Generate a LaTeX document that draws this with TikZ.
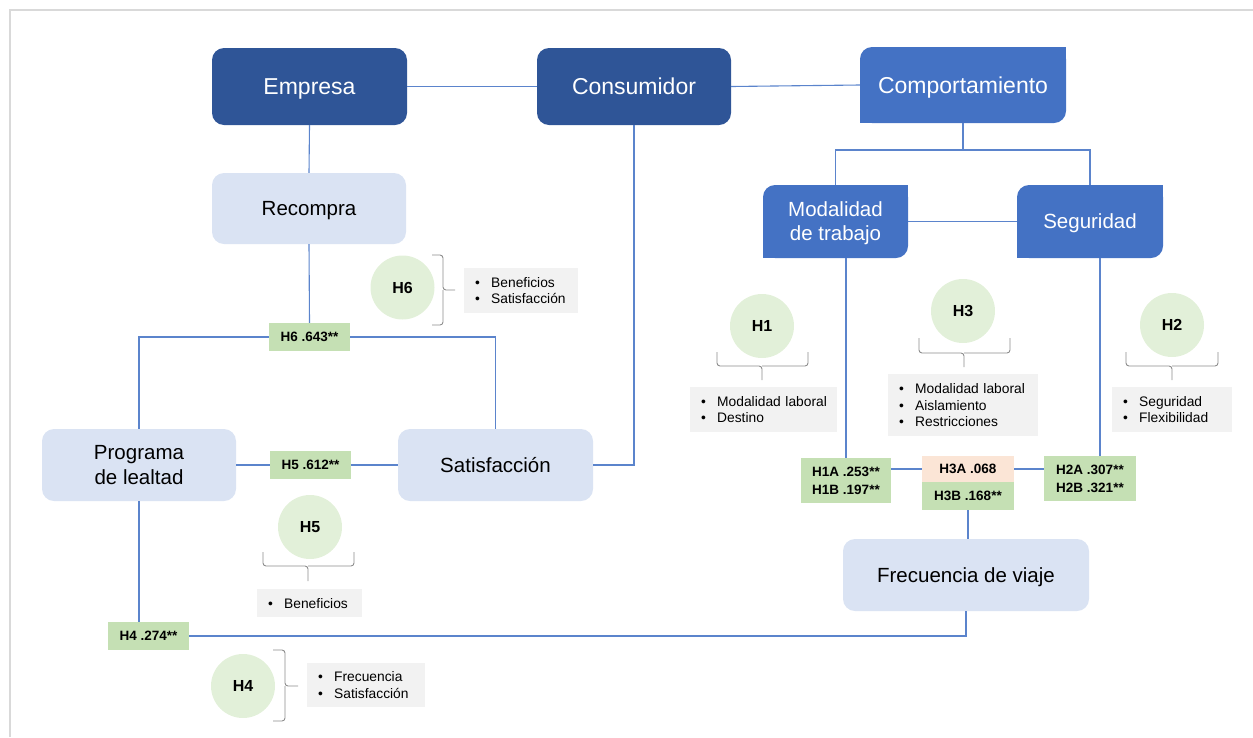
\documentclass[tikz,border=0pt]{standalone}
\usepackage{fontspec}
\setmainfont{Liberation Sans}
\definecolor{dkblue}{HTML}{2F5597}
\definecolor{mdblue}{HTML}{4472C4}
\definecolor{ltblue}{HTML}{DAE3F3}
\definecolor{lblgreen}{HTML}{C5E0B4}
\definecolor{peach}{HTML}{FBE5D6}
\definecolor{circgreen}{HTML}{E2F0D9}
\definecolor{bulgray}{HTML}{F2F2F2}
\definecolor{connblue}{HTML}{5B84CC}
\definecolor{bracegray}{HTML}{8C8C8C}
\definecolor{framegray}{HTML}{D9D9D9}
\newcommand{\bpt}[1]{\mbox{\makebox[16pt][l]{\textbullet}#1}}
\newcommand{\sharpdiag}[1]{%
  \fill[mdblue] (#1.north east) rectangle ++(-14pt,-14pt);
  \fill[mdblue] (#1.south west) rectangle ++(14pt,14pt);}
\tikzset{
  topbox/.style={fill=dkblue, text=white, rounded corners=12pt, inner sep=0pt, text depth=0pt,
    font=\fontsize{23}{27}\selectfont},
  diagbox/.style={fill=mdblue, text=white, rounded corners=12pt, inner sep=0pt, align=center, text depth=0pt},
  lightbox/.style={fill=ltblue, text=black, rounded corners=12pt, inner sep=0pt, align=center, text depth=0pt,
    font=\fontsize{20.5}{25}\selectfont},
  lbl/.style={fill=lblgreen, inner sep=0pt, align=left,
    font=\bfseries\fontsize{13.5}{18}\selectfont},
  hyp/.style={circle, fill=circgreen, minimum size=64pt, inner sep=0pt,
    font=\bfseries\fontsize{16}{18}\selectfont},
  conn/.style={draw=connblue, line width=1.1pt},
  brace/.style={draw=bracegray, line width=0.9pt, rounded corners=3pt},
  bul/.style={fill=bulgray, anchor=north west, inner xsep=11pt, inner ysep=0pt, align=left,
    font=\fontsize{13.8}{16.5}\selectfont}
}
\begin{document}
\begin{tikzpicture}[x=1pt,y=-1pt]
\useasboundingbox (0,0) rectangle (1253,737);
\draw[framegray, line width=2pt] (10,737) -- (10,10) -- (1253,10);

% main nodes
\node[topbox, minimum width=195pt, minimum height=77pt] (Emp) at (309.5,86.5) {Empresa};
\node[topbox, minimum width=194pt, minimum height=77pt] (Cons) at (634,86.5) {Consumidor};
\node[diagbox, minimum width=206pt, minimum height=76pt, font=\fontsize{23}{27}\selectfont] (Comp) at (963,85) {Comportamiento};
\sharpdiag{Comp}
\node[diagbox, minimum width=145pt, minimum height=73pt, font=\fontsize{20.5}{24}\selectfont] (Mod) at (835.5,221.5) {Modalidad\\de trabajo};
\sharpdiag{Mod}
\node[diagbox, minimum width=146pt, minimum height=73pt, font=\fontsize{20.5}{24}\selectfont] (Seg) at (1090,221.5) {Seguridad};
\sharpdiag{Seg}
\node[lightbox, minimum width=194pt, minimum height=71pt] (Rec) at (309,208.5) {Recompra};
\node[lightbox, minimum width=194pt, minimum height=72pt] (Prog) at (139,465) {Programa\\de lealtad};
\node[lightbox, minimum width=195pt, minimum height=72pt] (Sat) at (495.5,465) {Satisfacción};
\node[lightbox, minimum width=246pt, minimum height=72pt] (Frec) at (966,575) {Frecuencia de viaje};

% coefficient labels
\node[lbl, minimum width=81pt, minimum height=28pt] (H6lab) at (309.5,337) {H6 .643**};
\node[lbl, minimum width=81pt, minimum height=28pt] (H5lab) at (310.5,465) {H5 .612**};
\node[lbl, minimum width=81pt, minimum height=28pt] (H4lab) at (148.5,636) {H4 .274**};
\node[lbl, minimum width=90pt, minimum height=45pt] (H1ab) at (846,480.5) {H1A .253**\\H1B .197**};
\node[lbl, fill=peach, minimum width=92pt, minimum height=26pt] (H3A) at (968,469) {H3A .068};
\node[lbl, minimum width=92pt, minimum height=28pt] (H3B) at (968,496) {H3B .168**};
\node[lbl, minimum width=92pt, minimum height=45pt] (H2ab) at (1090,478.5) {H2A .307**\\H2B .321**};

% connectors
\draw[conn] (Emp.east) -- (Cons.west);
\draw[conn] (Cons.east) -- (Comp.west);
\draw[conn] (Emp.south) -- (Rec.north);
\draw[conn] (Rec.south) -- (H6lab.north);
\draw[conn] (Prog.north) |- (H6lab.west);
\draw[conn] (Sat.north) |- (H6lab.east);
\draw[conn] (Prog.east) -- (H5lab.west);
\draw[conn] (H5lab.east) -- (Sat.west);
\draw[conn] (Cons.south) |- (Sat.east);
\draw[conn] (Prog.south) -- (Prog.south |- H4lab.north);
\draw[conn] (Frec.south) |- (H4lab.east);
\coordinate (brY) at (963,150);
\draw[conn] (Comp.south) -- (brY);
\draw[conn] (Mod.north) |- (brY) -| (Seg.north);
\draw[conn] (Mod.east) -- (Seg.west);
\draw[conn] (H1ab.north) -- (H1ab.north |- Mod.south);
\coordinate (H2top) at ([xshift=10pt]H2ab.north);
\draw[conn] (H2top) -- (H2top |- Seg.south);
\draw[conn] (H3A.west) -- (H3A.west -| H1ab.east);
\draw[conn] (H3A.east) -- (H3A.east -| H2ab.west);
\draw[conn] (H3B.south) -- (H3B.south |- Frec.north);

% hypothesis circles
\node[hyp] (H6) at (402.5,287.5) {H6};
\node[hyp] (H5) at (310,527) {H5};
\node[hyp] (H4) at (243,686) {H4};
\node[hyp] (H1) at (762,326) {H1};
\node[hyp] (H3) at (963,311) {H3};
\node[hyp] (H2) at (1172,325) {H2};

% braces
\draw[brace] (432,255) -- (443,255) -- (443,290) -- (455,290);
\draw[brace] (432,325) -- (443,325) -- (443,290);
\draw[brace] (273,650) -- (285,650) -- (285,686) -- (298,686);
\draw[brace] (273,721) -- (285,721) -- (285,686);
\draw[brace] (263,552) -- (263,566) -- (308,566) -- (308,581);
\draw[brace] (354,552) -- (354,566) -- (308,566);
\draw[brace] (717,352) -- (717,366) -- (762,366) -- (762,380);
\draw[brace] (808,352) -- (808,366) -- (762,366);
\draw[brace] (919,338) -- (919,353) -- (964,353) -- (964,367);
\draw[brace] (1010,338) -- (1010,353) -- (964,353);
\draw[brace] (1126,352) -- (1126,366) -- (1172,366) -- (1172,380);
\draw[brace] (1218,352) -- (1218,366) -- (1172,366);

% bullet boxes
\node[bul, text width=92pt, minimum height=45pt] (B6) at (464,268) {\bpt{Beneficios}\\\bpt{Satisfacción}};
\node[bul, text width=83pt, minimum height=28pt] (B5) at (257,589) {\bpt{Beneficios}};
\node[bul, text width=96pt, minimum height=44pt] (B4) at (307,663) {\bpt{Frecuencia}\\\bpt{Satisfacción}};
\node[bul, text width=125pt, minimum height=45pt] (B1) at (690,387) {\bpt{Modalidad laboral}\\\bpt{Destino}};
\node[bul, text width=128pt, minimum height=62pt] (B3) at (888,374) {\bpt{Modalidad laboral}\\\bpt{Aislamiento}\\\bpt{Restricciones}};
\node[bul, text width=98pt, minimum height=45pt] (B2) at (1112,387) {\bpt{Seguridad}\\\bpt{Flexibilidad}};
\end{tikzpicture}
\end{document}
